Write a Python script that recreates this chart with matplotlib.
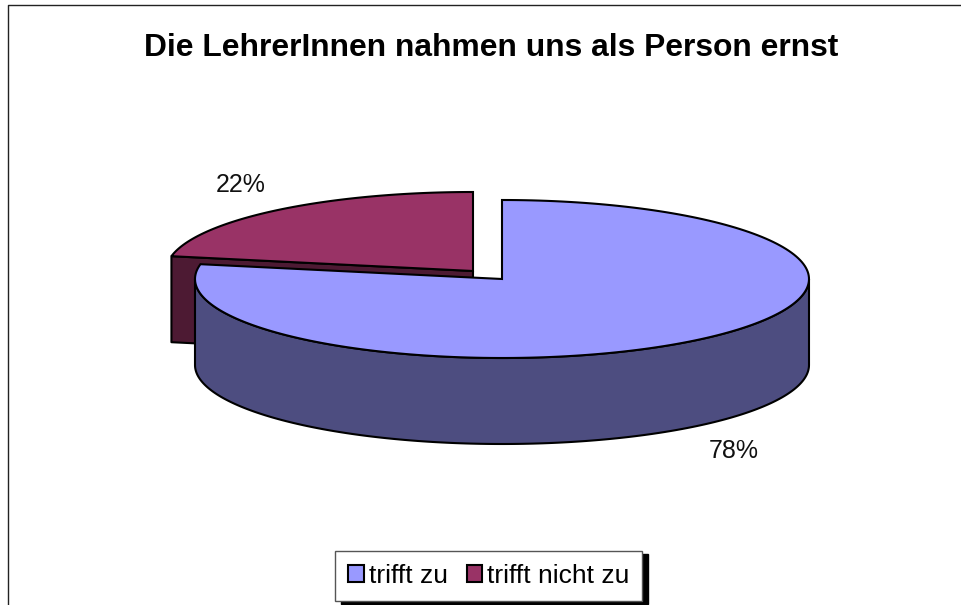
import numpy as np
import matplotlib
matplotlib.use("Agg")
import matplotlib.pyplot as plt
from matplotlib.patches import Patch, Polygon

plt.rcParams["font.family"] = ["Liberation Sans", "DejaVu Sans"]

title = "Die LehrerInnen nahmen uns als Person ernst"
labels = ["trifft zu", "trifft nicht zu"]
values = [78, 22]
pct_labels = ["78%", "22%"]

top_colors = ["#9999FF", "#993366"]
side_colors = ["#4D4D80", "#4D1A33"]
RX, RY, DEPTH = 307, 79, 86
centers = [(502, 279), (473, 271)]
label_pos = [(733.5, 451), (240.5, 185)]


def arc(center, start, end):
    # Winkel im Uhrzeigersinn ab 12 Uhr, Grad
    a = np.radians(np.linspace(start, end, 200))
    return np.column_stack([center[0] + RX * np.sin(a), center[1] - RY * np.cos(a)])


fig = plt.figure(figsize=(9.61, 6.05), dpi=100)
ax = fig.add_axes([0, 0, 1, 1])
ax.set_xlim(0, 961)
ax.set_ylim(605, 0)
ax.axis("off")

# Rahmen (nur oben und links sichtbar)
ax.plot([8, 8, 961], [605, 5, 5], color="#222222", lw=1.0)

ax.text(491.5, 48.5, title, ha="center", va="center", fontsize=22.9, fontweight="bold")

total = sum(values)
stops = np.cumsum([0] + values) / total * 360

# rotes Stueck zuerst, es liegt hinten
c = centers[1]
start, end = stops[1], stops[2]
edge = arc(c, start, start)[0]
side = [edge, c, (c[0], c[1] + DEPTH), (edge[0], edge[1] + DEPTH)]
ax.add_patch(Polygon(side, fc=side_colors[1], ec="black", lw=1.5, joinstyle="round"))
ax.add_patch(Polygon(np.vstack([arc(c, start, end), c]), fc=top_colors[1], ec="black", lw=1.5))

# blaues Stueck
c = centers[0]
start, end = stops[0], stops[1]
rim = arc(c, 90, 270)
wall = np.vstack([rim, (rim + [0, DEPTH])[::-1]])
ax.add_patch(Polygon(wall, fc=side_colors[0], ec="black", lw=1.5))
ax.add_patch(Polygon(np.vstack([arc(c, start, end), c]), fc=top_colors[0], ec="black", lw=1.5))

for txt, (x, y) in zip(pct_labels, label_pos):
    ax.text(x, y, txt, ha="center", va="center", fontsize=18, color="#111111")

handles = [Patch(fc=col, ec="black", lw=1.5) for col in top_colors]
leg = ax.legend(
    handles, labels,
    loc="lower left", bbox_to_anchor=(335, 601), bbox_transform=ax.transData,
    ncol=2, frameon=True, fancybox=False, fontsize=19, framealpha=1,
    edgecolor="#555555", borderaxespad=0, borderpad=0.5,
    handlelength=0.6, handleheight=0.6, handletextpad=0.17, columnspacing=0.72,
    shadow={"color": "black", "alpha": 1, "ox": 4.3, "oy": -2.2},
)
leg.get_frame().set_linewidth(1.0)

fig.savefig("out.png", dpi=100)
plt.close(fig)
